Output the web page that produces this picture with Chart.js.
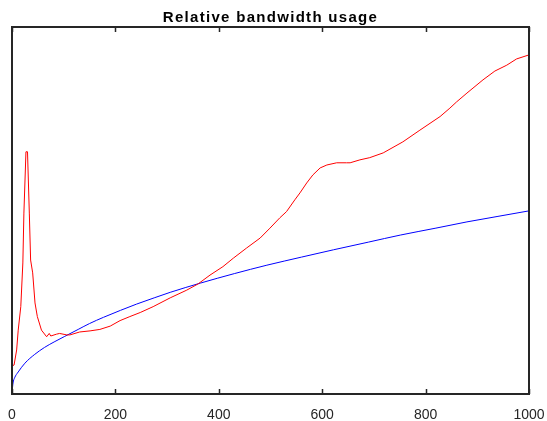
<!DOCTYPE html>
<html>
<head>
<meta charset="utf-8">
<script src="https://cdn.jsdelivr.net/npm/chart.js@4"></script>
<style>
  html, body { margin: 0; padding: 0; background: #fff; }
  #wrap { width: 547px; height: 421px; }
</style>
</head>
<body>
<div id="wrap"><canvas id="chartBandwidth"></canvas></div>
<script>
  // values (y in relative units, 0..1 = plot height)
  const TITLE = "Relative bandwidth usage";
  const xTicks = [0, 200, 400, 600, 800, 1000];

  const redX = [0, 4, 9, 12, 17, 21, 23, 27, 30, 33.5, 36, 40, 44.5, 49, 57, 67, 72, 75, 86, 92, 106,
    112, 131, 151, 170, 190, 209, 228, 248, 273, 306, 338, 360, 383, 408, 428, 454, 480, 499, 518,
    531, 547, 557, 570, 582, 596, 609, 628, 647, 654, 673, 692, 718, 756, 789, 828, 847, 860, 880,
    911, 934, 957, 976, 1000];
  const redY = [0.076, 0.079, 0.120, 0.174, 0.238, 0.357, 0.493, 0.660, 0.660, 0.493, 0.365, 0.330,
    0.248, 0.211, 0.174, 0.156, 0.165, 0.158, 0.163, 0.165, 0.161,
    0.161, 0.169, 0.172, 0.176, 0.185, 0.200, 0.211, 0.222, 0.238, 0.262, 0.283, 0.300, 0.324, 0.347,
    0.370, 0.398, 0.425, 0.452, 0.480,
    0.497, 0.529, 0.548, 0.575, 0.597, 0.616, 0.624, 0.630, 0.630, 0.630, 0.638, 0.644, 0.657, 0.687,
    0.719, 0.756, 0.779, 0.796, 0.820,
    0.856, 0.880, 0.896, 0.913, 0.924];

  const blueX = [0, 2, 5, 12, 25, 44, 63, 83, 102, 128, 150, 177, 210, 241, 275, 306, 364, 430, 493, 560,
    622, 690, 751, 820, 880, 940, 1000];
  const blueY = [0.004, 0.030, 0.044, 0.060, 0.084, 0.108, 0.127, 0.143, 0.157, 0.176, 0.192, 0.209,
    0.228, 0.245, 0.262, 0.277, 0.302, 0.328, 0.351, 0.373, 0.393, 0.414, 0.433, 0.452, 0.469, 0.484, 0.499];

  const FRAME = "#262626";
  const FONT = "'Liberation Sans', Arial, sans-serif";

  function pts(xs, ys) {
    return xs.map((x, i) => ({ x: x, y: ys[i] }));
  }

  // box around the plot with inward ticks on top and bottom, plus the (letter-spaced) title
  const framePlugin = {
    id: "frame",
    afterDraw(chart) {
      const { ctx, chartArea: a } = chart;
      const sx = chart.scales.x;
      ctx.save();
      ctx.strokeStyle = FRAME;
      ctx.lineWidth = 2;
      ctx.strokeRect(a.left, a.top, a.right - a.left, a.bottom - a.top);
      ctx.lineWidth = 1.5;
      ctx.beginPath();
      xTicks.forEach(v => {
        const px = Math.round(sx.getPixelForValue(v)) + 0.5;
        ctx.moveTo(px, a.bottom);
        ctx.lineTo(px, a.bottom - 5);
        ctx.moveTo(px, a.top);
        ctx.lineTo(px, a.top + 5);
      });
      ctx.stroke();

      ctx.fillStyle = "#000";
      ctx.font = "bold 15px " + FONT;
      if ("letterSpacing" in ctx) ctx.letterSpacing = "1.3px";
      ctx.textAlign = "center";
      ctx.textBaseline = "alphabetic";
      ctx.fillText(TITLE, (a.left + a.right) / 2, 22);
      ctx.restore();
    }
  };

  new Chart(document.getElementById("chartBandwidth"), {
    type: "line",
    data: {
      datasets: [
        {
          data: pts(redX, redY),
          borderColor: "#ff0000",
          borderWidth: 1,
          pointRadius: 0,
          tension: 0
        },
        {
          data: pts(blueX, blueY),
          borderColor: "#0000ff",
          borderWidth: 1,
          pointRadius: 0,
          cubicInterpolationMode: "monotone"
        }
      ]
    },
    options: {
      responsive: true,
      maintainAspectRatio: false,
      animation: false,
      layout: { padding: { left: 12, right: 18, top: 27, bottom: 0 } },
      plugins: {
        legend: { display: false },
        tooltip: { enabled: false },
        title: { display: false }
      },
      scales: {
        x: {
          type: "linear",
          min: 0,
          max: 1000,
          afterBuildTicks: (s) => { s.ticks = xTicks.map(v => ({ value: v })); },
          afterFit: (s) => {
            s.height = 27;
            s.paddingLeft = 0;
            s.paddingRight = 0;
          },
          grid: { display: false },
          border: { display: false },
          ticks: {
            padding: 5,
            color: "#262626",
            maxRotation: 0,
            font: { family: FONT, size: 14 },
            callback: (v) => String(v)
          }
        },
        y: {
          display: false,
          min: 0,
          max: 1
        }
      }
    },
    plugins: [framePlugin]
  });
</script>
</body>
</html>
